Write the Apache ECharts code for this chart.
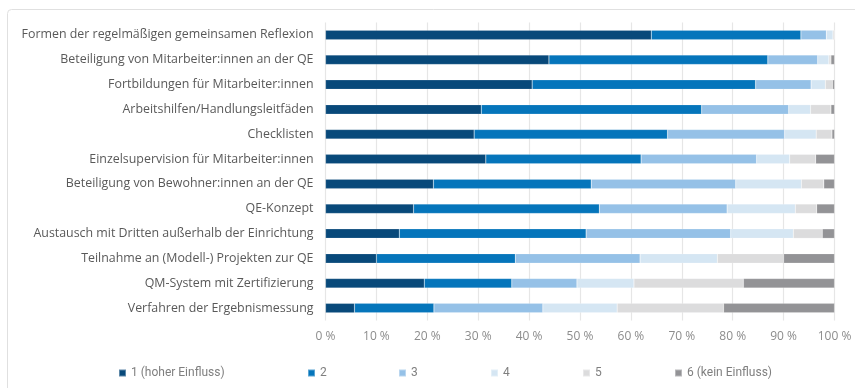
<!DOCTYPE html>
<html>
<head>
<meta charset="utf-8">
<script src="https://cdn.jsdelivr.net/npm/echarts@6/dist/echarts.min.js"></script>
<style>
  html, body { margin: 0; padding: 0; background: #ffffff; }
  #chart { width: 855px; height: 388px; }
</style>
</head>
<body>
<div id="chart"></div>
<script>
// Einflussfaktoren auf die Qualitätsentwicklung (Anteile in %)
const categories = [
  'Formen der regelmäßigen gemeinsamen Reflexion',
  'Beteiligung von Mitarbeiter:innen an der QE',
  'Fortbildungen für Mitarbeiter:innen',
  'Arbeitshilfen/Handlungsleitfäden',
  'Checklisten',
  'Einzelsupervision für Mitarbeiter:innen',
  'Beteiligung von Bewohner:innen an der QE',
  'QE-Konzept',
  'Austausch mit Dritten außerhalb der Einrichtung',
  'Teilnahme an (Modell-) Projekten zur QE',
  'QM-System mit Zertifizierung',
  'Verfahren der Ergebnismessung'
];

const seriesNames = ['1 (hoher Einfluss)', '2', '3', '4', '5', '6 (kein Einfluss)'];

const rating1 = [64.0, 43.9, 40.6, 30.6, 29.2, 31.5, 21.2, 17.3, 14.5, 10.0, 19.4, 5.7];
const rating2 = [29.4, 43.0, 43.9, 43.3, 38.0, 30.5, 31.0, 36.5, 36.7, 27.3, 17.2, 15.6];
const rating3 = [5.0, 9.8, 10.9, 17.1, 23.0, 22.7, 28.4, 25.1, 28.4, 24.5, 12.8, 21.4];
const rating4 = [1.3, 2.2, 2.8, 4.3, 6.2, 6.5, 12.9, 13.4, 12.3, 15.2, 11.2, 14.6];
const rating5 = [0.3, 0.4, 1.4, 4.0, 3.1, 5.1, 4.4, 4.2, 5.7, 13.0, 21.5, 20.9];
const rating6 = [0.0, 0.7, 0.4, 0.7, 0.5, 3.7, 2.1, 3.5, 2.4, 10.0, 17.9, 21.8];

const xTicks = [0, 10, 20, 30, 40, 50, 60, 70, 80, 90, 100];

const seriesValues = [rating1, rating2, rating3, rating4, rating5, rating6];
const colors = ['#08497a', '#0575bb', '#95c1e7', '#d5e6f3', '#dcdcdd', '#939396'];
const legendLeft = [113, 302, 393, 485, 577, 669];

const LABEL_FONT = '"Open Sans", Roboto, sans-serif';
const LEGEND_FONT = 'Roboto, "Open Sans", sans-serif';

const chart = echarts.init(document.getElementById('chart'), null, { renderer: 'canvas' });

const option = {
  animation: false,
  backgroundColor: '#ffffff',
  color: colors,
  graphic: [{
    type: 'rect',
    silent: true,
    z: -10,
    shape: { x: 7.5, y: 9.5, width: 900, height: 420, r: 4 },
    style: { fill: 'none', stroke: '#e0e0e0', lineWidth: 1 }
  }],
  grid: { left: 325.5, right: 20.5, top: 22.5, bottom: 67.5, containLabel: false },
  legend: seriesNames.map((name, i) => ({
    data: [name],
    left: legendLeft[i],
    top: 362,
    itemWidth: 7,
    itemHeight: 7,
    itemGap: 0,
    icon: 'rect',
    selectedMode: false,
    textStyle: { color: '#7f7f7f', fontSize: 12, fontFamily: LEGEND_FONT }
  })),
  xAxis: {
    type: 'value',
    min: xTicks[0],
    max: xTicks[xTicks.length - 1],
    interval: xTicks[1] - xTicks[0],
    axisLine: { show: false },
    axisTick: { show: false },
    splitLine: { lineStyle: { color: '#e6e6e6', width: 1.2 } },
    axisLabel: {
      color: '#8c8c8c',
      fontSize: 12,
      fontFamily: LABEL_FONT,
      margin: 10,
      formatter: v => v + ' %'
    }
  },
  yAxis: {
    type: 'category',
    data: categories,
    inverse: true,
    axisLine: { show: false },
    axisTick: { show: false },
    splitLine: { show: false },
    axisLabel: {
      color: '#595959',
      fontSize: 12.4,
      fontFamily: LABEL_FONT,
      margin: 12
    }
  },
  series: seriesValues.map((vals, i) => ({
    name: seriesNames[i],
    type: 'bar',
    stack: 'total',
    barWidth: 9.5,
    data: vals,
    itemStyle: {
      color: colors[i],
      borderColor: 'rgba(255,255,255,0.35)',
      borderWidth: 0.5
    }
  }))
};

chart.setOption(option);
</script>
</body>
</html>
